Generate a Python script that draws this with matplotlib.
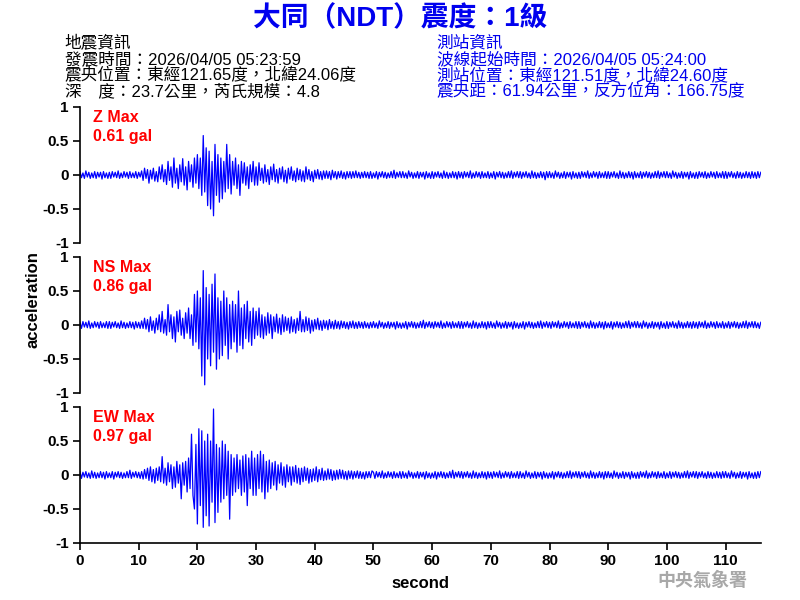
import matplotlib
matplotlib.use("Agg")
import matplotlib.pyplot as plt
import numpy as np

plt.rcParams['font.family'] = ['Liberation Sans', 'Noto Sans CJK TC', 'DejaVu Sans']

# sampling step of the traced waveform (seconds)
DT = 0.25

# Z component, one value every 0.25 s (gal)
z_trace = [
    # 0 - 10 s
    0.05, -0.04, 0.03, -0.05, 0.06, -0.03, 0.04, -0.05, 0.03, -0.04, 0.05, -0.05, 0.04, -0.03, 0.04, -0.06, 0.05, -0.04, 0.03, -0.05,
    0.04, -0.05, 0.05, -0.03, 0.04, -0.04, 0.06, -0.05, 0.03, -0.04, 0.05, -0.03, 0.04, -0.05, 0.05, -0.04, 0.03, -0.04, 0.05, -0.05,
    # 10 - 50 s
    0.04, -0.03, 0.06, -0.08, 0.10, -0.05, 0.08, -0.12, 0.07, -0.06, 0.10, -0.09, 0.05, -0.10, 0.12, -0.06,
    0.15, -0.10, 0.08, -0.14, 0.20, -0.08, 0.12, -0.18, 0.25, -0.12, 0.10, -0.20, 0.15, -0.10, 0.24, -0.15,
    0.12, -0.22, 0.20, -0.10, 0.15, -0.18, 0.25, -0.12, 0.30, -0.20, 0.25, -0.30, 0.58, -0.25, 0.40, -0.45,
    0.35, -0.50, 0.20, -0.60, 0.45, -0.30, 0.30, -0.40, 0.25, -0.35, 0.20, -0.25, 0.45, -0.20, 0.30, -0.28,
    0.20, -0.15, 0.25, -0.20, 0.15, -0.30, 0.20, -0.12, 0.18, -0.15, 0.12, -0.20, 0.15, -0.10, 0.20, -0.15,
    0.12, -0.15, 0.18, -0.08, 0.10, -0.12, 0.15, -0.10, 0.08, -0.14, 0.12, -0.07, 0.16, -0.10, 0.08, -0.12,
    0.10, -0.06, 0.12, -0.10, 0.07, -0.12, 0.10, -0.06, 0.12, -0.08, 0.06, -0.10, 0.10, -0.07, 0.08, -0.09,
    0.06, -0.10, 0.12, -0.06, 0.08, -0.08, 0.05, -0.10, 0.07, -0.05, 0.08, -0.06, 0.05, -0.07, 0.06, -0.05,
    0.06, -0.05, 0.05, -0.07, 0.07, -0.04, 0.05, -0.06, 0.05, -0.04, 0.06, -0.05, 0.04, -0.06, 0.05, -0.04,
    0.05, -0.05, 0.05, -0.04, 0.06, -0.04, 0.04, -0.05, 0.04, -0.04, 0.05, -0.04, 0.04, -0.05, 0.05, -0.05,
    # 50 - 116 s
    0.03, -0.04, 0.05, -0.06, 0.04, -0.03, 0.05, -0.04, 0.04, -0.05, 0.03, -0.04, 0.05, -0.04, 0.07, -0.05, 0.04, -0.03, 0.05, -0.04,
    0.05, -0.04, 0.03, -0.05, 0.06, -0.03, 0.04, -0.05, 0.03, -0.04, 0.05, -0.05, 0.04, -0.03, 0.04, -0.06, 0.05, -0.04, 0.03, -0.05,
    0.05, -0.05, 0.04, -0.03, 0.05, -0.04, 0.03, -0.05, 0.06, -0.04, 0.04, -0.05, 0.03, -0.04, 0.05, -0.04, 0.04, -0.06, 0.05, -0.04,
    0.04, -0.05, 0.05, -0.03, 0.04, -0.04, 0.06, -0.05, 0.03, -0.04, 0.05, -0.03, 0.04, -0.05, 0.05, -0.04, 0.03, -0.04, 0.05, -0.05,
    0.03, -0.04, 0.05, -0.06, 0.04, -0.03, 0.05, -0.04, 0.04, -0.05, 0.03, -0.04, 0.05, -0.04, 0.06, -0.05, 0.04, -0.03, 0.05, -0.04,
    0.05, -0.05, 0.04, -0.03, 0.05, -0.04, 0.03, -0.05, 0.06, -0.04, 0.04, -0.05, 0.03, -0.04, 0.05, -0.04, 0.04, -0.07, 0.05, -0.04,
    0.05, -0.04, 0.03, -0.05, 0.06, -0.03, 0.04, -0.05, 0.03, -0.04, 0.05, -0.05, 0.04, -0.03, 0.04, -0.06, 0.05, -0.04, 0.03, -0.05,
    0.04, -0.05, 0.05, -0.03, 0.04, -0.04, 0.06, -0.05, 0.03, -0.04, 0.05, -0.03, 0.04, -0.05, 0.05, -0.04, 0.03, -0.04, 0.05, -0.05,
    0.05, -0.05, 0.04, -0.03, 0.05, -0.04, 0.03, -0.05, 0.06, -0.04, 0.04, -0.05, 0.03, -0.04, 0.05, -0.04, 0.04, -0.06, 0.05, -0.04,
    0.03, -0.04, 0.05, -0.05, 0.04, -0.03, 0.05, -0.04, 0.04, -0.05, 0.03, -0.04, 0.05, -0.04, 0.06, -0.05, 0.04, -0.03, 0.05, -0.04,
    0.05, -0.04, 0.03, -0.05, 0.06, -0.03, 0.04, -0.05, 0.03, -0.04, 0.05, -0.05, 0.04, -0.03, 0.04, -0.06, 0.05, -0.04, 0.03, -0.05,
    0.04, -0.05, 0.05, -0.03, 0.04, -0.04, 0.05, -0.05, 0.03, -0.04, 0.05, -0.03, 0.04, -0.05, 0.05, -0.04, 0.03, -0.04, 0.05, -0.05,
    0.05, -0.05, 0.04, -0.03, 0.05, -0.04, 0.03, -0.05, 0.05, -0.04, 0.04, -0.05, 0.03, -0.04, 0.05, -0.04, 0.04, -0.05, 0.05, -0.04,
    0.04, -0.05, 0.05, -0.04, 0.04,
]

# NS component
ns_trace = [
    # 0 - 10 s
    0.04, -0.05, 0.05, -0.03, 0.04, -0.04, 0.06, -0.05, 0.03, -0.04, 0.05, -0.03, 0.04, -0.05, 0.05, -0.04, 0.03, -0.04, 0.05, -0.05,
    0.05, -0.05, 0.04, -0.03, 0.05, -0.04, 0.03, -0.05, 0.06, -0.04, 0.04, -0.05, 0.03, -0.04, 0.05, -0.04, 0.04, -0.06, 0.05, -0.04,
    # 10 - 50 s
    0.04, -0.05, 0.06, -0.05, 0.10, -0.06, 0.08, -0.10, 0.12, -0.08, 0.06, -0.12, 0.10, -0.07, 0.15, -0.10,
    0.20, -0.12, 0.08, -0.15, 0.30, -0.10, 0.15, -0.20, 0.12, -0.25, 0.20, -0.10, 0.22, -0.15, 0.10, -0.20,
    0.18, -0.12, 0.25, -0.20, 0.15, -0.30, 0.45, -0.25, 0.50, -0.35, 0.40, -0.75, 0.80, -0.88, 0.55, -0.50,
    0.45, -0.60, 0.60, -0.40, 0.75, -0.65, 0.40, -0.50, 0.35, -0.45, 0.50, -0.30, 0.40, -0.50, 0.30, -0.35,
    0.35, -0.25, 0.30, -0.40, 0.50, -0.30, 0.25, -0.35, 0.30, -0.20, 0.35, -0.25, 0.20, -0.30, 0.25, -0.20,
    0.20, -0.15, 0.25, -0.18, 0.15, -0.20, 0.12, -0.15, 0.18, -0.12, 0.15, -0.20, 0.12, -0.10, 0.16, -0.12,
    0.10, -0.14, 0.15, -0.10, 0.12, -0.08, 0.10, -0.12, 0.12, -0.10, 0.08, -0.12, 0.10, -0.08, 0.20, -0.10,
    0.08, -0.10, 0.12, -0.08, 0.10, -0.12, 0.07, -0.09, 0.08, -0.06, 0.10, -0.07, 0.06, -0.08, 0.07, -0.05,
    0.06, -0.07, 0.08, -0.05, 0.05, -0.06, 0.07, -0.05, 0.05, -0.06, 0.06, -0.04, 0.05, -0.05, 0.04, -0.06,
    0.05, -0.04, 0.06, -0.05, 0.04, -0.05, 0.05, -0.04, 0.04, -0.05, 0.05, -0.04, 0.03, -0.05, 0.04, -0.04,
    # 50 - 116 s
    0.05, -0.04, 0.03, -0.05, 0.06, -0.03, 0.04, -0.05, 0.03, -0.04, 0.05, -0.05, 0.04, -0.03, 0.04, -0.06, 0.05, -0.04, 0.03, -0.05,
    0.03, -0.04, 0.05, -0.06, 0.04, -0.03, 0.05, -0.04, 0.04, -0.05, 0.03, -0.04, 0.05, -0.04, 0.07, -0.05, 0.04, -0.03, 0.05, -0.04,
    0.04, -0.05, 0.05, -0.03, 0.04, -0.04, 0.06, -0.05, 0.03, -0.04, 0.05, -0.03, 0.04, -0.05, 0.05, -0.04, 0.03, -0.04, 0.05, -0.05,
    0.05, -0.05, 0.04, -0.03, 0.05, -0.04, 0.03, -0.05, 0.06, -0.04, 0.04, -0.05, 0.03, -0.04, 0.05, -0.04, 0.04, -0.06, 0.05, -0.04,
    0.05, -0.04, 0.03, -0.05, 0.06, -0.03, 0.04, -0.05, 0.03, -0.04, 0.05, -0.05, 0.04, -0.03, 0.04, -0.06, 0.05, -0.04, 0.03, -0.05,
    0.03, -0.04, 0.05, -0.06, 0.04, -0.03, 0.05, -0.04, 0.04, -0.05, 0.03, -0.04, 0.05, -0.04, 0.06, -0.05, 0.04, -0.03, 0.05, -0.04,
    0.04, -0.05, 0.05, -0.03, 0.04, -0.04, 0.06, -0.05, 0.03, -0.04, 0.05, -0.03, 0.04, -0.05, 0.05, -0.04, 0.03, -0.04, 0.05, -0.05,
    0.05, -0.05, 0.04, -0.03, 0.05, -0.04, 0.03, -0.05, 0.06, -0.04, 0.04, -0.05, 0.03, -0.04, 0.05, -0.04, 0.04, -0.06, 0.05, -0.04,
    0.03, -0.04, 0.05, -0.06, 0.04, -0.03, 0.05, -0.04, 0.04, -0.05, 0.03, -0.04, 0.05, -0.04, 0.06, -0.05, 0.04, -0.03, 0.05, -0.04,
    0.05, -0.04, 0.03, -0.05, 0.06, -0.03, 0.04, -0.05, 0.03, -0.04, 0.05, -0.05, 0.04, -0.03, 0.04, -0.06, 0.05, -0.04, 0.03, -0.05,
    0.05, -0.05, 0.04, -0.03, 0.05, -0.04, 0.03, -0.05, 0.06, -0.04, 0.04, -0.05, 0.03, -0.04, 0.05, -0.04, 0.04, -0.05, 0.05, -0.04,
    0.04, -0.05, 0.05, -0.03, 0.04, -0.04, 0.06, -0.05, 0.03, -0.04, 0.05, -0.03, 0.04, -0.05, 0.05, -0.04, 0.03, -0.04, 0.05, -0.05,
    0.03, -0.04, 0.05, -0.05, 0.04, -0.03, 0.05, -0.04, 0.04, -0.05, 0.03, -0.04, 0.05, -0.04, 0.06, -0.05, 0.04, -0.03, 0.05, -0.04,
    0.05, -0.04, 0.03, -0.05, 0.04,
]

# EW component
ew_trace = [
    # 0 - 10 s
    0.05, -0.05, 0.04, -0.03, 0.05, -0.04, 0.03, -0.05, 0.06, -0.04, 0.04, -0.05, 0.03, -0.04, 0.05, -0.04, 0.04, -0.06, 0.05, -0.04,
    0.03, -0.04, 0.05, -0.06, 0.04, -0.03, 0.05, -0.04, 0.04, -0.05, 0.03, -0.04, 0.05, -0.04, 0.07, -0.05, 0.04, -0.03, 0.05, -0.04,
    # 10 - 50 s
    0.04, -0.05, 0.05, -0.06, 0.08, -0.05, 0.10, -0.08, 0.12, -0.10, 0.08, -0.12, 0.10, -0.08, 0.12, -0.10,
    0.27, -0.12, 0.10, -0.15, 0.18, -0.10, 0.15, -0.20, 0.12, -0.18, 0.20, -0.12, 0.15, -0.35, 0.18, -0.15,
    0.20, -0.25, 0.25, -0.20, 0.60, -0.30, -0.50, 0.45, -0.72, 0.68, -0.45, 0.65, -0.77, 0.50, -0.60, 0.60,
    -0.75, 0.50, -0.40, 0.97, -0.70, 0.45, -0.55, 0.40, -0.40, 0.50, -0.35, 0.45, -0.30, 0.35, -0.65, 0.30,
    -0.30, 0.25, -0.25, 0.30, -0.20, 0.22, -0.30, 0.28, -0.25, 0.30, -0.45, 0.25, -0.20, 0.35, -0.30, 0.25,
    -0.30, 0.30, -0.20, 0.35, -0.25, 0.30, -0.35, 0.20, -0.25, 0.22, -0.20, 0.18, -0.15, 0.20, -0.22, 0.15,
    -0.12, 0.18, -0.15, 0.12, -0.18, 0.15, -0.10, 0.12, -0.15, 0.12, -0.10, 0.14, -0.12, 0.10, -0.14, 0.10,
    -0.10, 0.12, -0.08, 0.10, -0.12, 0.08, -0.10, 0.09, -0.08, 0.12, -0.10, 0.08, -0.07, 0.10, -0.08, 0.06,
    -0.07, 0.09, -0.06, 0.08, -0.08, 0.06, -0.07, 0.07, -0.06, 0.08, -0.05, 0.07, -0.06, 0.05, -0.07, 0.06,
    -0.05, 0.06, -0.06, 0.05, -0.04, 0.06, -0.05, 0.05, -0.05, 0.04, -0.06, 0.05, -0.04, 0.05, -0.04, 0.06,
    # 50 - 116 s
    0.04, -0.05, 0.05, -0.03, 0.04, -0.04, 0.06, -0.05, 0.03, -0.04, 0.05, -0.03, 0.04, -0.05, 0.05, -0.04, 0.03, -0.04, 0.05, -0.05,
    0.05, -0.04, 0.03, -0.05, 0.06, -0.03, 0.04, -0.05, 0.03, -0.04, 0.05, -0.05, 0.04, -0.03, 0.04, -0.06, 0.05, -0.04, 0.03, -0.05,
    0.03, -0.04, 0.05, -0.06, 0.04, -0.03, 0.05, -0.04, 0.04, -0.05, 0.03, -0.04, 0.05, -0.04, 0.07, -0.05, 0.04, -0.03, 0.05, -0.04,
    0.05, -0.05, 0.04, -0.03, 0.05, -0.04, 0.03, -0.05, 0.06, -0.04, 0.04, -0.05, 0.03, -0.04, 0.05, -0.04, 0.04, -0.06, 0.05, -0.04,
    0.04, -0.05, 0.05, -0.03, 0.04, -0.04, 0.06, -0.05, 0.03, -0.04, 0.05, -0.03, 0.04, -0.05, 0.05, -0.04, 0.03, -0.04, 0.05, -0.05,
    0.05, -0.04, 0.03, -0.05, 0.06, -0.03, 0.04, -0.05, 0.03, -0.04, 0.05, -0.05, 0.04, -0.03, 0.04, -0.06, 0.05, -0.04, 0.03, -0.05,
    0.03, -0.04, 0.05, -0.06, 0.04, -0.03, 0.05, -0.04, 0.04, -0.05, 0.03, -0.04, 0.05, -0.04, 0.06, -0.05, 0.04, -0.03, 0.05, -0.04,
    0.05, -0.05, 0.04, -0.03, 0.05, -0.04, 0.03, -0.05, 0.06, -0.04, 0.04, -0.05, 0.03, -0.04, 0.05, -0.04, 0.04, -0.06, 0.05, -0.04,
    0.05, -0.04, 0.03, -0.05, 0.06, -0.03, 0.04, -0.05, 0.03, -0.04, 0.05, -0.05, 0.04, -0.03, 0.04, -0.06, 0.05, -0.04, 0.03, -0.05,
    0.04, -0.05, 0.05, -0.03, 0.04, -0.04, 0.06, -0.05, 0.03, -0.04, 0.05, -0.03, 0.04, -0.05, 0.05, -0.04, 0.03, -0.04, 0.05, -0.05,
    0.03, -0.04, 0.05, -0.05, 0.04, -0.03, 0.05, -0.04, 0.04, -0.05, 0.03, -0.04, 0.05, -0.04, 0.06, -0.05, 0.04, -0.03, 0.05, -0.04,
    0.05, -0.05, 0.04, -0.03, 0.05, -0.04, 0.03, -0.05, 0.05, -0.04, 0.04, -0.05, 0.03, -0.04, 0.05, -0.04, 0.04, -0.05, 0.05, -0.04,
    0.05, -0.04, 0.03, -0.05, 0.06, -0.03, 0.04, -0.05, 0.03, -0.04, 0.05, -0.05, 0.04, -0.03, 0.04, -0.06, 0.05, -0.04, 0.03, -0.05,
    0.04, -0.05, 0.05, -0.04, 0.05,
]

components = ["Z", "NS", "EW"]
max_gal = [0.61, 0.86, 0.97]

title = "大同（NDT）震度：1級"
quake_info = [
    "地震資訊",
    "發震時間：2026/04/05 05:23:59",
    "震央位置：東經121.65度，北緯24.06度",
    "深　度：23.7公里，芮氏規模：4.8",
]
station_info = [
    "測站資訊",
    "波線起始時間：2026/04/05 05:24:00",
    "測站位置：東經121.51度，北緯24.60度",
    "震央距：61.94公里，反方位角：166.75度",
]

y_ticks = [-1, -0.5, 0, 0.5, 1]
y_tick_labels = ["-1", "-0.5", "0", "0.5", "1"]
x_ticks = list(range(0, 120, 10))
t_max = 116


def main():
    fig = plt.figure(figsize=(8, 6), dpi=100)

    fig.text(0.5, 0.968, title, ha='center', va='center', fontsize=20,
             fontweight='bold', color='#0000ee')
    for i, line in enumerate(quake_info):
        fig.text(0.081, 0.928 - i * 0.0268, line, ha='left', va='center',
                 fontsize=12, fontweight='medium', color='black')
    for i, line in enumerate(station_info):
        fig.text(0.546, 0.928 - i * 0.0268, line, ha='left', va='center',
                 fontsize=12, fontweight='medium', color='#0000ee')

    traces = [z_trace, ns_trace, ew_trace]
    bottoms = [0.595, 0.345, 0.095]
    for k, (name, tr, mx) in enumerate(zip(components, traces, max_gal)):
        ax = fig.add_axes([0.1, bottoms[k], 0.851, 0.2267])
        t = np.arange(len(tr)) * DT
        ax.plot(t, tr, color='#0000ff', linewidth=0.9)
        ax.set_xlim(0, t_max)
        ax.set_ylim(-1, 1)
        ax.set_yticks(y_ticks)
        ax.set_yticklabels(y_tick_labels, fontweight='bold', fontsize=11)
        ax.spines['top'].set_visible(False)
        ax.spines['right'].set_visible(False)
        ax.tick_params(direction='out', length=5, width=1.2, pad=3)
        for sp in ax.spines.values():
            sp.set_linewidth(1.2)
        if k < 2:
            ax.spines['bottom'].set_visible(False)
            ax.set_xticks([])
        else:
            ax.set_xticks(x_ticks)
            ax.set_xticklabels([str(v) for v in x_ticks], fontweight='bold', fontsize=11)
            ax.set_xlabel('second', fontsize=12, fontweight='bold', labelpad=6)
        ax.text(0.019, 0.926, "%s Max" % name, transform=ax.transAxes, ha='left',
                va='center', color='#ff0000', fontsize=11.5, fontweight='bold')
        ax.text(0.019, 0.78, "%.2f gal" % mx, transform=ax.transAxes, ha='left',
                va='center', color='#ff0000', fontsize=11.5, fontweight='bold')

    fig.text(0.041, 0.5, 'acceleration', rotation=90, ha='center', va='center',
             fontsize=12, fontweight='bold')
    fig.text(0.878, 0.032, '中央氣象署', ha='center', va='center',
             fontsize=13, fontweight='bold', color='#a8a8a8')

    plt.savefig("out.png")
    plt.close()


if __name__ == "__main__":
    main()
